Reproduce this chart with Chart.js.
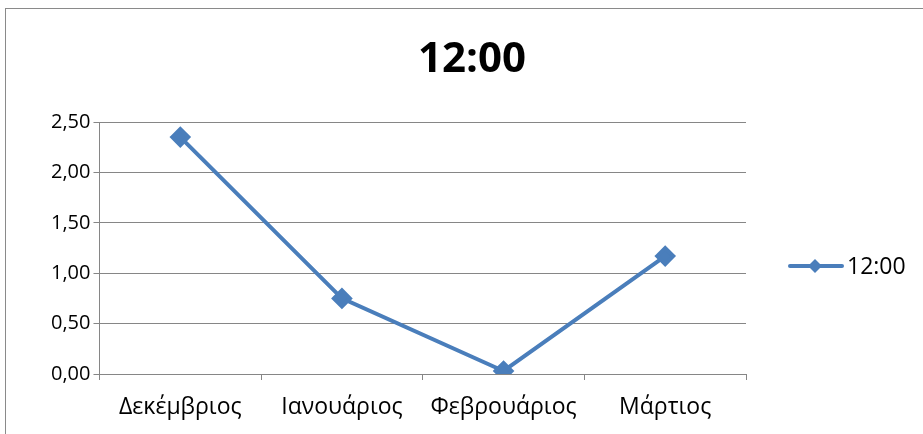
<!DOCTYPE html>
<html>
<head>
<meta charset="utf-8">
<script src="https://cdn.jsdelivr.net/npm/chart.js@4"></script>
<style>
  html, body { margin: 0; padding: 0; background: #fff; overflow: hidden; }
  #wrap { position: relative; width: 923px; height: 434px; }
  #frame { position: absolute; left: 5px; top: 8px; width: 940px; height: 460px; border: 1px solid #8a8a8a; box-sizing: border-box; pointer-events: none; }
</style>
</head>
<body>
<div id="wrap">
  <canvas id="chart" width="923" height="434"></canvas>
  <div id="frame"></div>
</div>
<script>
const months = [`Δεκέμβριος`, `Ιανουάριος`, `Φεβρουάριος`, `Μάρτιος`];
const noon = [2.35, 0.75, 0.03, 1.17];
const seriesName = `12:00`;
const yMin = 0;
const yMax = 2.5;
const yStep = 0.5;

const blue = `#4a7ebb`;
const fontFamily = `"Open Sans", sans-serif`;

// title + legend drawn by hand, excel puts them relative to the whole frame
const frameDecor = {
  id: `frameDecor`,
  afterDraw(chart) {
    const ctx = chart.ctx;
    const name = chart.data.datasets[0].label;
    ctx.save();
    ctx.fillStyle = `#000`;
    ctx.font = `bold 42px ${fontFamily}`;
    ctx.textAlign = `center`;
    ctx.textBaseline = `middle`;
    ctx.fillText(name, 472, 60);

    const y = 266;
    ctx.strokeStyle = blue;
    ctx.lineWidth = 4;
    ctx.lineCap = `round`;
    ctx.beginPath();
    ctx.moveTo(790, y);
    ctx.lineTo(842, y);
    ctx.stroke();
    ctx.fillStyle = blue;
    ctx.beginPath();
    ctx.moveTo(815, y - 7);
    ctx.lineTo(822, y);
    ctx.lineTo(815, y + 7);
    ctx.lineTo(808, y);
    ctx.closePath();
    ctx.fill();
    ctx.fillStyle = `#000`;
    ctx.font = `23px ${fontFamily}`;
    ctx.textAlign = `left`;
    ctx.fillText(name, 847, y + 1);
    ctx.restore();
  }
};

new Chart(document.getElementById(`chart`), {
  type: `line`,
  data: {
    labels: months,
    datasets: [{
      label: seriesName,
      data: noon,
      borderColor: blue,
      backgroundColor: blue,
      borderWidth: 4,
      pointStyle: `rectRot`,
      pointRadius: 8,
      pointHoverRadius: 8,
      tension: 0
    }]
  },
  options: {
    responsive: false,
    animation: false,
    layout: {padding: {left: 48, right: 177, top: 122, bottom: 0}},
    plugins: {
      legend: {display: false},
      tooltip: {enabled: false},
      title: {display: false}
    },
    scales: {
      x: {
        offset: true,
        afterFit: (scale) => {
          scale.height = 60;
        },
        grid: {
          offset: true,
          drawOnChartArea: false,
          drawTicks: true,
          tickLength: 6,
          color: `#868686`
        },
        border: {color: `#868686`},
        ticks: {color: `#000`, font: {family: fontFamily, size: 23}, padding: 14, maxRotation: 0}
      },
      y: {
        min: yMin,
        max: yMax,
        grid: {color: `#868686`, tickLength: 6},
        border: {color: `#868686`},
        ticks: {
          stepSize: yStep,
          color: `#000`,
          font: {family: fontFamily, size: 20},
          padding: 3,
          callback: (v) => v.toFixed(2).replace(`.`, `,`)
        }
      }
    }
  },
  plugins: [frameDecor]
});
</script>
</body>
</html>
